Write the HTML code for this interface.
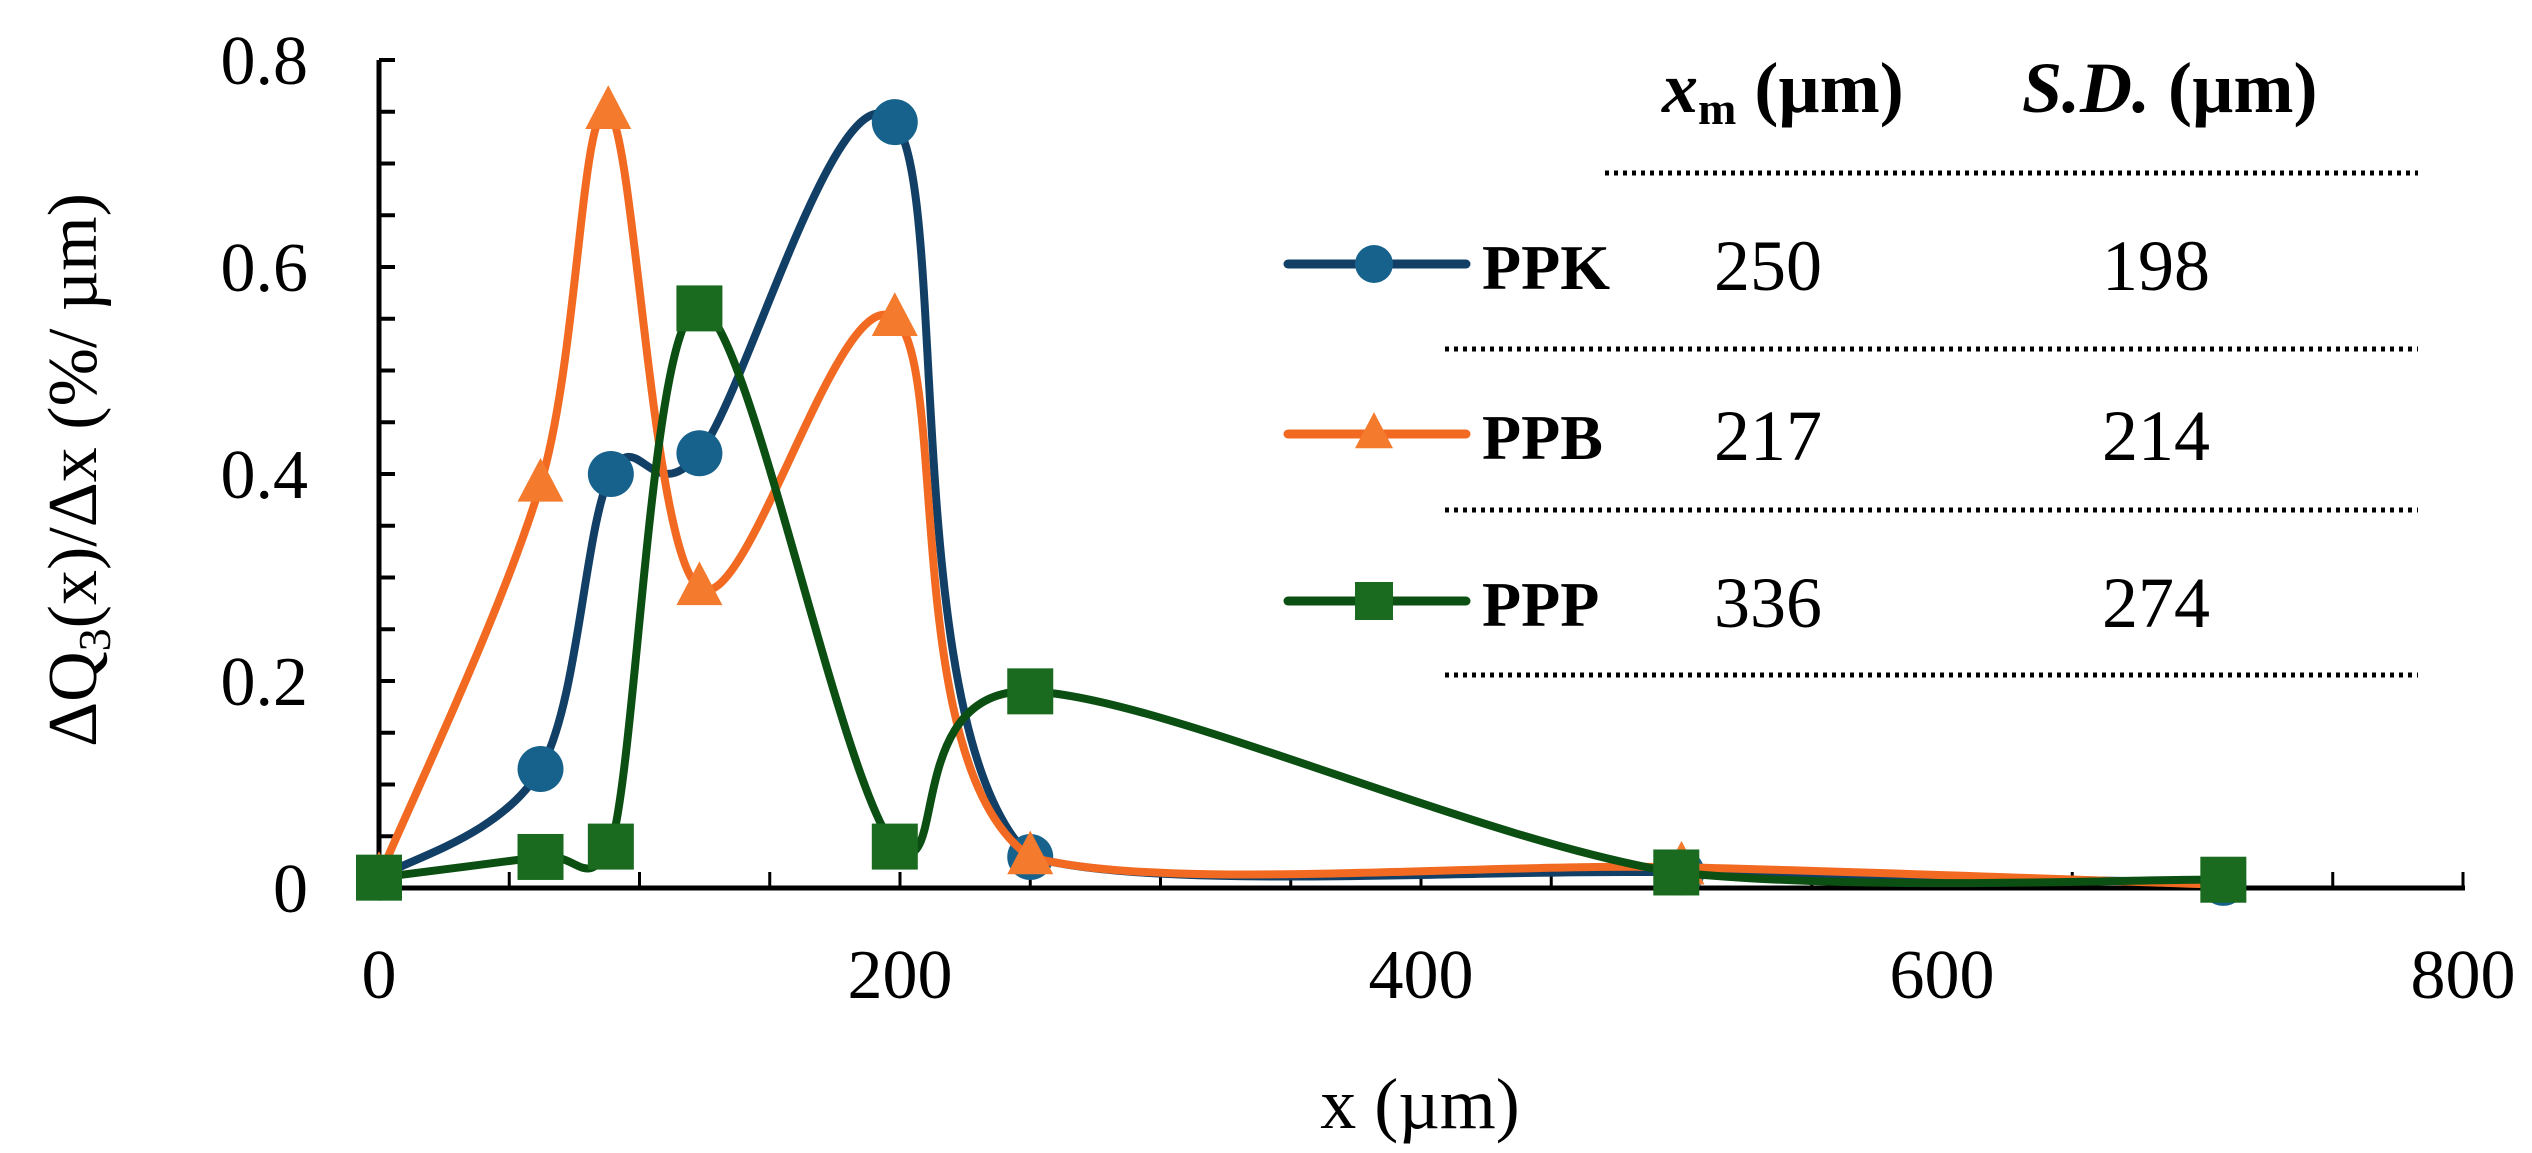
<!DOCTYPE html>
<html><head><meta charset="utf-8">
<style>
html,body{margin:0;padding:0;background:#fff;}
svg{display:block;font-family:"Liberation Serif",serif;}
</style></head>
<body>
<svg id="chart" width="2532" height="1153" viewBox="0 0 2532 1153" xmlns="http://www.w3.org/2000/svg">
  <g id="axes"></g>
  <g id="series"></g>
  <text transform="translate(96,470) rotate(-90)" text-anchor="middle" font-size="70">ΔQ<tspan font-size="46" dy="14">3</tspan><tspan dy="-14">(x)/Δx (%/ µm)</tspan></text>
  <text x="1420" y="1128" text-anchor="middle" font-size="72">x (µm)</text>
  <g id="legend">
    <text x="1662" y="112" font-size="72" font-weight="bold"><tspan font-style="italic">x</tspan><tspan font-size="46" dy="12">m</tspan><tspan dy="-12"> (µm)</tspan></text>
    <text x="2022" y="112" font-size="72" font-weight="bold"><tspan font-style="italic">S.D.</tspan> (µm)</text>
  </g>
</svg>
<script>
const categoriesPPK = [0, 62, 89, 123, 198, 250, 500, 708];
const valuesPPK = [0.01, 0.115, 0.40, 0.42, 0.74, 0.03, 0.015, 0.005];
const categoriesPPB = [0, 62, 88, 123, 198, 250, 500, 708];
const valuesPPB = [0.01, 0.39, 0.75, 0.29, 0.55, 0.03, 0.02, 0.003];
const categoriesPPP = [0, 62, 89, 123, 198, 250, 498, 708];
const valuesPPP = [0.01, 0.03, 0.04, 0.56, 0.04, 0.19, 0.015, 0.008];
const xTicks = [0, 200, 400, 600, 800];
const yTicks = [0, 0.2, 0.4, 0.6, 0.8];
const yTickLabels = ["0", "0.2", "0.4", "0.6", "0.8"];
const seriesNames = ["PPK", "PPB", "PPP"];
const xmValues = ["250", "217", "336"];
const sdValues = ["198", "214", "274"];

const NS = "http://www.w3.org/2000/svg";
const X0 = 379, X1 = 2463, Y0 = 888, Y1 = 60;
const xs = v => X0 + (v / 800) * (X1 - X0);
const ys = v => Y0 - (v / 0.8) * (Y0 - Y1);
function mk(tag, attrs, parent) {
  const e = document.createElementNS(NS, tag);
  for (const k in attrs) e.setAttribute(k, attrs[k]);
  parent.appendChild(e);
  return e;
}
const axes = document.getElementById('axes');
let el = mk('line', {x1: X0, y1: Y1, x2: X0, y2: Y0, stroke: '#000', 'stroke-width': 5}, axes);


el = mk('line', {x1: X0 - 2, y1: Y0, x2: X1 + 2, y2: Y0, stroke: '#000', 'stroke-width': 5}, axes);


for (let v = 0; v <= 0.8001; v += 0.05) {
  const t = mk('line', {x1: X0, y1: ys(v), x2: X0 + 16, y2: ys(v), stroke: '#000', 'stroke-width': 4}, axes);
  
  
}
for (let v = 0; v <= 800; v += 50) {
  const t = mk('line', {x1: xs(v), y1: Y0, x2: xs(v), y2: Y0 - 16, stroke: '#000', 'stroke-width': 3}, axes);
  
  
}
yTicks.forEach((v, i) => {
  const t = mk('text', {x: 308, y: ys(v) + 24, 'text-anchor': 'end', 'font-size': 70}, axes);
  t.textContent = yTickLabels[i];
  
  
});
xTicks.forEach(v => {
  const t = mk('text', {x: xs(v), y: 998, 'text-anchor': 'middle', 'font-size': 70}, axes);
  t.textContent = String(v);
  
  
});

const FLOOR = ys(-0.004);
function smoothPath(px, py) {
  const P = px.map((x, i) => [x, py[i]]);
  let d = `M${P[0][0]},${P[0][1]}`;
  for (let i = 0; i < P.length - 1; i++) {
    const p0 = P[Math.max(0, i - 1)], p1 = P[i], p2 = P[i + 1], p3 = P[Math.min(P.length - 1, i + 2)];
    const c1 = [p1[0] + (p2[0] - p0[0]) / 6, Math.min(FLOOR, p1[1] + (p2[1] - p0[1]) / 6)];
    const c2 = [p2[0] - (p3[0] - p1[0]) / 6, Math.min(FLOOR, p2[1] - (p3[1] - p1[1]) / 6)];
    d += ` C${c1[0]},${c1[1]} ${c2[0]},${c2[1]} ${p2[0]},${p2[1]}`;
  }
  return d;
}
function marker(type, x, y, fill, parent, s) {
  let m;
  if (type === 'circle') m = mk('ellipse', {cx: x, cy: y, rx: s, ry: s, fill: fill}, parent);
  else if (type === 'tri') m = mk('polygon', {points: `${x},${y - s * 1.15} ${x - s},${y + s * 0.75} ${x + s},${y + s * 0.75}`, fill: fill}, parent);
  else m = mk('rect', {x: x - s, y: y - s, width: 2 * s, height: 2 * s, fill: fill}, parent);
  return m;
}
const seriesDefs = [
  {cats: categoriesPPK, vals: valuesPPK, line: '#123f66', fill: '#17628c', type: 'circle', name: 'ppk'},
  {cats: categoriesPPB, vals: valuesPPB, line: '#f26a21', fill: '#f47a2e', type: 'tri', name: 'ppb'},
  {cats: categoriesPPP, vals: valuesPPP, line: '#0c4f12', fill: '#1a6b20', type: 'square', name: 'ppp'}
];
const sg = document.getElementById('series');
seriesDefs.forEach(sd => {
  const g = mk('g', {}, sg);
  
  
  const p = mk('path', {d: smoothPath(sd.cats.map(xs), sd.vals.map(ys)), fill: 'none', stroke: sd.line, 'stroke-width': 8}, g);
  
  
  sd.cats.forEach((c, i) => {
    const m = marker(sd.type, xs(c), ys(sd.vals[i]), sd.fill, g, 23);
    
    
  });
});

const lg = document.getElementById('legend');
const rowY = [264, 434, 601];
const dotY = [173, 349, 510, 675];
dotY.forEach((y, i) => {
  const l = mk('line', {x1: i === 0 ? 1605 : 1445, y1: y, x2: 2418, y2: y, stroke: '#000', 'stroke-width': 5, 'stroke-dasharray': '4 5'}, lg);
  
  
});
seriesDefs.forEach((sd, i) => {
  const y = rowY[i];
  const l = mk('line', {x1: 1288, y1: y, x2: 1466, y2: y, stroke: sd.line, 'stroke-width': 9, 'stroke-linecap': 'round'}, lg);
  
  
  const m = marker(sd.type, 1374, y, sd.fill, lg, 19);
  
  
  const t = mk('text', {x: 1482, y: y + 25, 'font-size': 64, 'font-weight': 'bold'}, lg);
  t.textContent = seriesNames[i];
  
  
  const a = mk('text', {x: 1714, y: y + 26, 'font-size': 72}, lg);
  a.textContent = xmValues[i];
  
  
  const b = mk('text', {x: 2102, y: y + 26, 'font-size': 72}, lg);
  b.textContent = sdValues[i];
  
  
});
</script>
</body></html>
